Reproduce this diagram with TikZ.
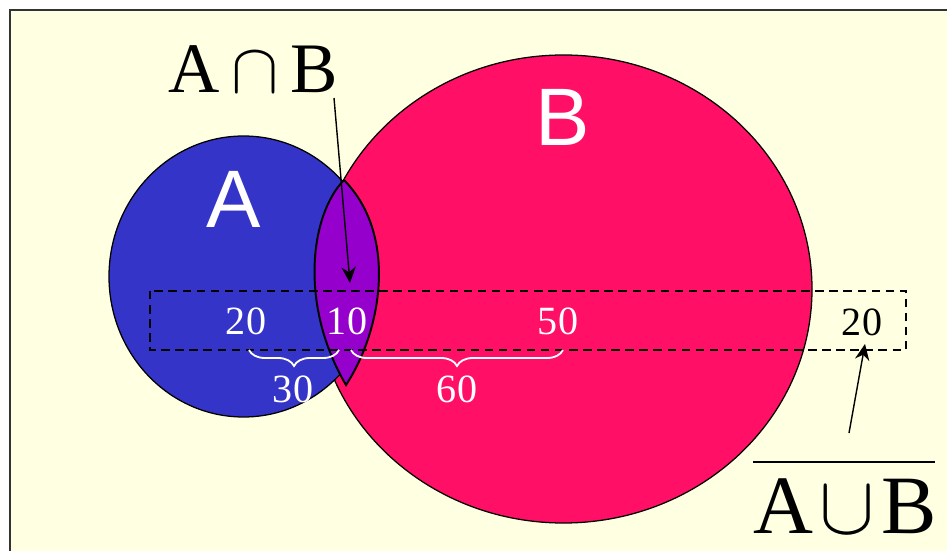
\RequirePackage{fix-cm}
\documentclass[tikz,border=0pt]{standalone}
\usepackage{fontspec}
\setmainfont{Liberation Serif}
\newfontfamily\labelsans{Liberation Sans}
\usetikzlibrary{arrows.meta, positioning, decorations.pathreplacing}

\definecolor{paper}{RGB}{255,255,226}
\definecolor{setA}{RGB}{52,52,200}
\definecolor{setB}{RGB}{255,16,102}
\definecolor{lens}{RGB}{150,0,204}

\begin{document}
\begin{tikzpicture}[
  x=0.025cm, y=-0.025cm,
  every node/.style={inner sep=0pt},
  set/.style={draw, line width=0.9pt},
  num/.style={text=white, font=\fontsize{28.5}{30}\selectfont},
  setname/.style={text=white, font=\labelsans\fontsize{58}{60}\selectfont},
  arr/.style={-{Stealth[length=4mm, width=3.6mm]}, line width=1pt},
  brace/.style={decorate, decoration={brace, amplitude=0.4cm}, draw=white, line width=1.3pt}
]
  \useasboundingbox (0,0) rectangle (947,551);
  \fill[white] (0,0) rectangle (947,551);
  \fill[paper] (10,10) rectangle (947,551);
  \draw[gray!40!black, line width=1.2pt] (10,551) -- (10,10) -- (947,10);

  % the two sets, A lies over B
  \draw[set, fill=setB] (563.5,289) ellipse [x radius=248.5, y radius=234];
  \draw[set, fill=setA] (243.5,276.5) ellipse [x radius=134.5, y radius=140.5];
  \draw[fill=lens, line width=1.4pt] (344,180)
    .. controls (310,215) and (299,305) .. (346,385)
    .. controls (382,330) and (398,235) .. (344,180);

  \node[setname] (nameA) at (234,199) {A};
  \node[setname] (nameB) at (563,117) {B};

  % counted region
  \draw[line width=1pt, dash pattern=on 6pt off 4pt] (150,291) rectangle (906,350);
  \node[num] (onlyA) at (246,321) {20};
  \node[num] (both) at (347,321) {10};
  \node[num] (onlyB) at (558,321) {50};
  \node[num, text=black] (none) at (862,322) {20};

  \coordinate (braceA1) at (249,350);
  \coordinate (braceA2) at (339,350);
  \coordinate (braceB1) at (351,350);
  \coordinate (braceB2) at (563,350);
  \draw[brace] (braceA2) -- (braceA1);
  \draw[brace] (braceB2) -- (braceB1);
  \node[num] (totalA) at (293,389) {30};
  \node[num] (totalB) at (457,389) {60};

  % labels with arrows
  \node[font=\fontsize{50.5}{52}\selectfont] (cap) at (253,69) {A\,$\cap$\,B};
  \coordinate (capfrom) at (334,98);
  \coordinate (capto) at (350,283);
  \draw[arr] (capfrom) -- (capto);
  \node[font=\fontsize{59}{60}\selectfont] (cup) at (845,506) {A\kern0.08em$\cup$\kern0.08em B};
  \coordinate (barL) at (753,462);
  \coordinate (barR) at (935,462);
  \draw[line width=2pt] (barL) -- (barR);
  \coordinate (cupfrom) at (849,433);
  \coordinate (cupto) at (865,344);
  \draw[arr] (cupfrom) -- (cupto);
\end{tikzpicture}
\end{document}
